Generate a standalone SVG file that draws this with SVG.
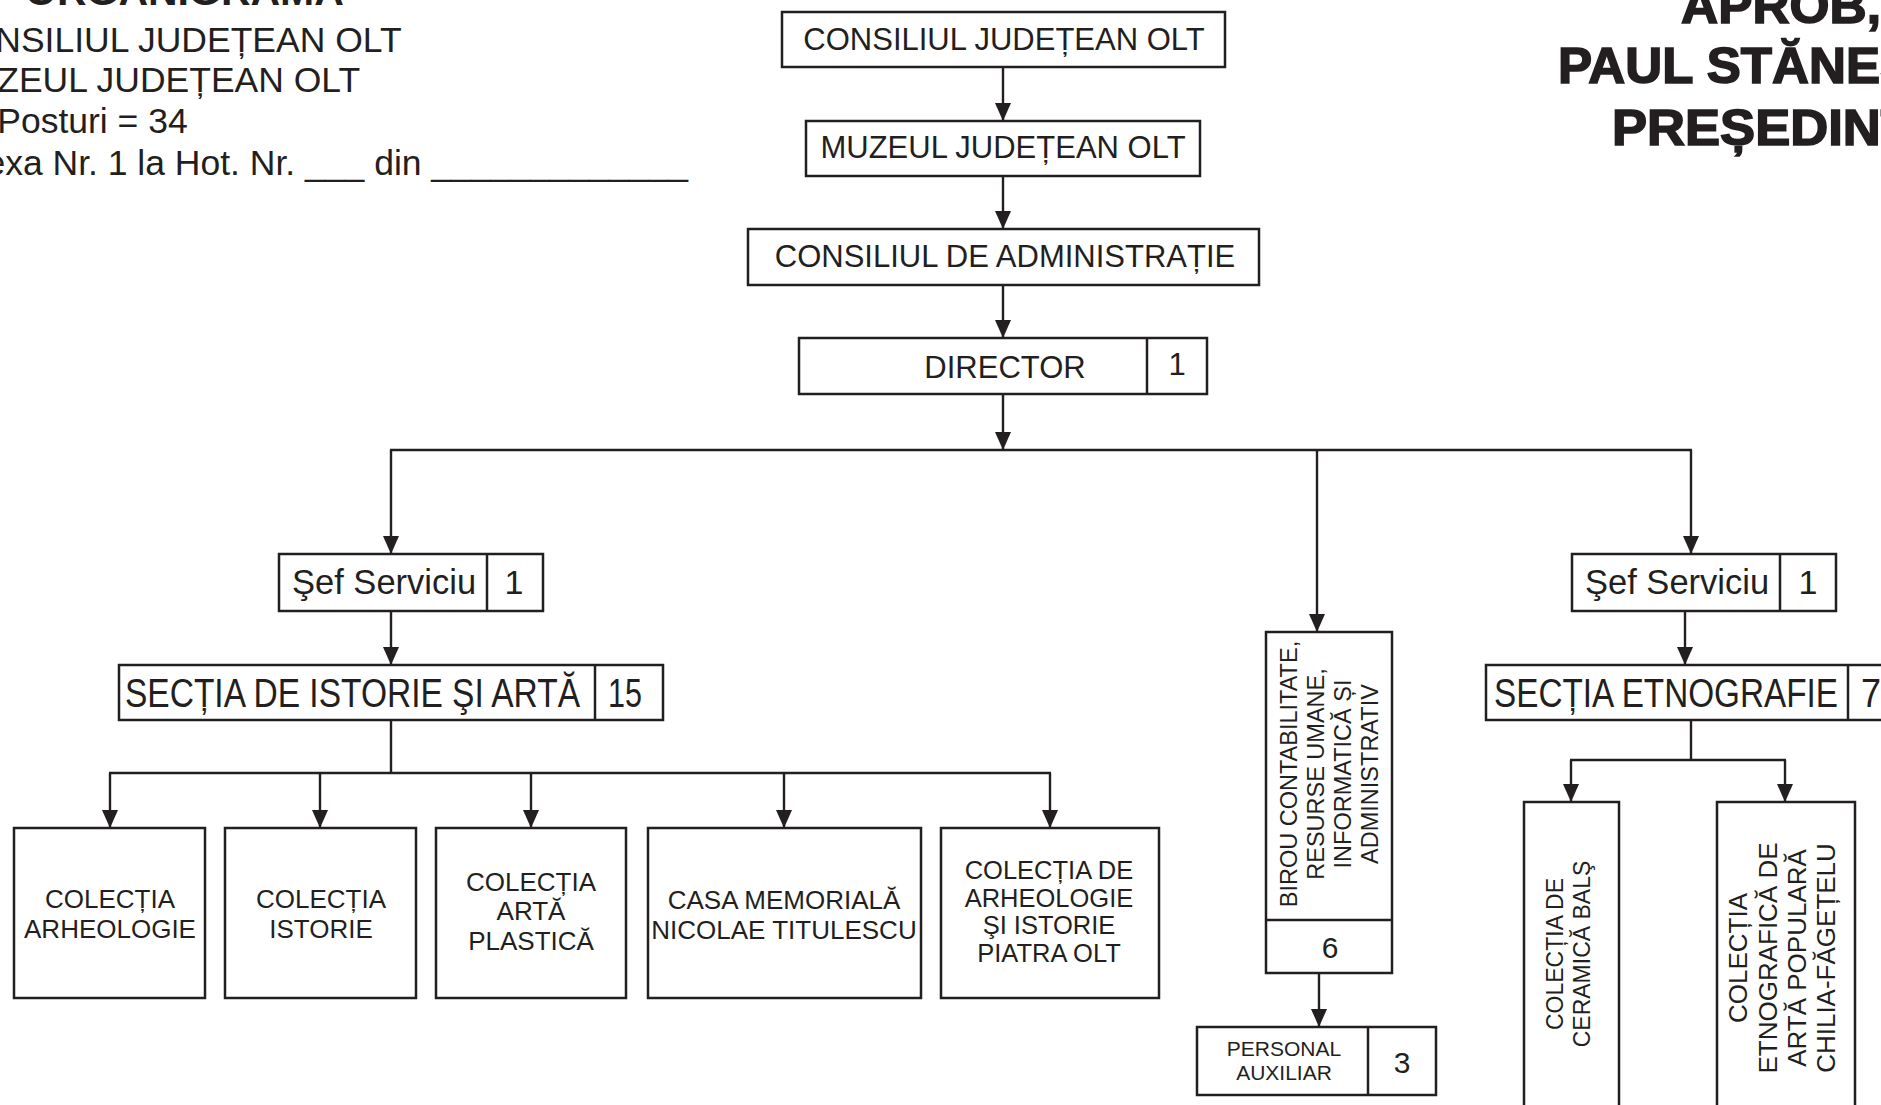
<svg xmlns="http://www.w3.org/2000/svg" width="1881" height="1105" viewBox="0 0 1881 1105">
<defs>
<style>
text{font-family:"Liberation Sans",Arial,sans-serif;fill:#231f20}
.box{fill:#fff;stroke:#231f20;stroke-width:2.5}
.div{stroke:#231f20;stroke-width:2.5}
.c{stroke:#231f20;stroke-width:2.4;fill:none}
.ca{stroke:#231f20;stroke-width:2.4;fill:none;marker-end:url(#ah)}
.m{text-anchor:middle}
.hd{font-weight:bold;font-size:50px;stroke:#231f20;stroke-width:1.6}
</style>
<marker id="ah" viewBox="0 0 18 16" markerWidth="18" markerHeight="16" refX="18" refY="8" orient="auto" markerUnits="userSpaceOnUse">
<path d="M0,0 L18,8 L0,16 z" fill="#231f20"/>
</marker>
</defs>
<rect width="1881" height="1105" fill="#fff"/>

<g id="header-left">
<text x="25" y="5" font-size="41" font-weight="bold">ORGANIGRAMA</text>
<text x="-58" y="52" font-size="35.5">CONSILIUL JUDEȚEAN OLT</text>
<text x="-58" y="92" font-size="35.5">MUZEUL JUDEȚEAN OLT</text>
<text x="-58" y="133" font-size="35.5">Nr. Posturi = 34</text>
<text x="-58" y="175" font-size="35.5">Anexa Nr. 1 la Hot. Nr. ___ din _____________</text>
</g>
<g id="header-right">
<text class="hd" x="1681" y="23" textLength="200" lengthAdjust="spacingAndGlyphs">APROB,</text>
<text class="hd" x="1558" y="83" textLength="430" lengthAdjust="spacingAndGlyphs">PAUL STĂNESCU</text>
<text class="hd" x="1612" y="145" textLength="336" lengthAdjust="spacingAndGlyphs">PREȘEDINTE</text>
</g>

<g id="connectors">
<line class="ca" x1="1003" y1="67" x2="1003" y2="121"/>
<line class="ca" x1="1003" y1="176" x2="1003" y2="229"/>
<line class="ca" x1="1003" y1="285" x2="1003" y2="338"/>
<line class="ca" x1="1003" y1="394" x2="1003" y2="450"/>
<line class="c" x1="390" y1="450" x2="1692" y2="450"/>
<line class="ca" x1="391" y1="450" x2="391" y2="554"/>
<line class="ca" x1="1317" y1="450" x2="1317" y2="632"/>
<line class="ca" x1="1691" y1="450" x2="1691" y2="554"/>
<line class="ca" x1="391" y1="611" x2="391" y2="665"/>
<line class="c" x1="391" y1="720" x2="391" y2="773"/>
<line class="c" x1="109" y1="773" x2="1051" y2="773"/>
<line class="ca" x1="110" y1="773" x2="110" y2="828"/>
<line class="ca" x1="320" y1="773" x2="320" y2="828"/>
<line class="ca" x1="531" y1="773" x2="531" y2="828"/>
<line class="ca" x1="784" y1="773" x2="784" y2="828"/>
<line class="ca" x1="1050" y1="773" x2="1050" y2="828"/>
<line class="ca" x1="1319" y1="973" x2="1319" y2="1027"/>
<line class="ca" x1="1685" y1="611" x2="1685" y2="665"/>
<line class="c" x1="1691" y1="720" x2="1691" y2="760"/>
<line class="c" x1="1570" y1="760" x2="1786" y2="760"/>
<line class="ca" x1="1571" y1="760" x2="1571" y2="802"/>
<line class="ca" x1="1785" y1="760" x2="1785" y2="802"/>
</g>

<g id="n-consiliul-judetean">
<rect class="box" x="782" y="12" width="443" height="55"/>
<text class="m" x="1004" y="50" font-size="31">CONSILIUL JUDEȚEAN OLT</text>
</g>
<g id="n-muzeul">
<rect class="box" x="806" y="121" width="394" height="55"/>
<text class="m" x="1003" y="158" font-size="31">MUZEUL JUDEȚEAN OLT</text>
</g>
<g id="n-consiliul-admin">
<rect class="box" x="748" y="229" width="511" height="56"/>
<text class="m" x="1005" y="267" font-size="31">CONSILIUL DE ADMINISTRAȚIE</text>
</g>
<g id="n-director">
<rect class="box" x="799" y="338" width="408" height="56"/>
<line class="div" x1="1147" y1="338" x2="1147" y2="394"/>
<text class="m" x="1005" y="378" font-size="31">DIRECTOR</text>
<text class="m" x="1177" y="375" font-size="31">1</text>
</g>

<g id="n-sef-left">
<rect class="box" x="279" y="554" width="264" height="57"/>
<line class="div" x1="487" y1="554" x2="487" y2="611"/>
<text x="292" y="594" font-size="34.5">Şef Serviciu</text>
<text class="m" x="514" y="594" font-size="34">1</text>
</g>
<g id="n-sectia-istorie">
<rect class="box" x="119" y="665" width="544" height="55"/>
<line class="div" x1="595" y1="665" x2="595" y2="720"/>
<text x="125" y="707" font-size="40" textLength="455" lengthAdjust="spacingAndGlyphs">SECȚIA DE ISTORIE ŞI ARTĂ</text>
<text x="608" y="707" font-size="40" textLength="34" lengthAdjust="spacingAndGlyphs">15</text>
</g>

<g id="n-col-arheologie">
<rect class="box" x="14" y="828" width="191" height="170"/>
<text class="m" x="110" y="908" font-size="26">COLECȚIA</text>
<text class="m" x="110" y="938" font-size="26">ARHEOLOGIE</text>
</g>
<g id="n-col-istorie">
<rect class="box" x="225" y="828" width="191" height="170"/>
<text class="m" x="321" y="908" font-size="26">COLECȚIA</text>
<text class="m" x="321" y="938" font-size="26">ISTORIE</text>
</g>
<g id="n-col-arta">
<rect class="box" x="436" y="828" width="190" height="170"/>
<text class="m" x="531" y="891" font-size="26">COLECȚIA</text>
<text class="m" x="531" y="920" font-size="26">ARTĂ</text>
<text class="m" x="531" y="950" font-size="26">PLASTICĂ</text>
</g>
<g id="n-casa-memoriala">
<rect class="box" x="648" y="828" width="273" height="170"/>
<text class="m" x="784" y="909" font-size="26">CASA MEMORIALĂ</text>
<text class="m" x="784" y="939" font-size="26">NICOLAE TITULESCU</text>
</g>
<g id="n-col-piatra">
<rect class="box" x="941" y="828" width="218" height="170"/>
<text class="m" x="1049" y="879" font-size="25.5">COLECȚIA DE</text>
<text class="m" x="1049" y="907" font-size="25.5">ARHEOLOGIE</text>
<text class="m" x="1049" y="934" font-size="25.5">ŞI ISTORIE</text>
<text class="m" x="1049" y="962" font-size="25.5">PIATRA OLT</text>
</g>

<g id="n-birou">
<rect class="box" x="1266" y="632" width="126" height="341"/>
<line class="div" x1="1266" y1="920" x2="1392" y2="920"/>
<g font-size="23.5" text-anchor="middle">
<text transform="translate(1297,774) rotate(-90)">BIROU CONTABILITATE,</text>
<text transform="translate(1324,774) rotate(-90)">RESURSE UMANE,</text>
<text transform="translate(1351,774) rotate(-90)">INFORMATICĂ ȘI</text>
<text transform="translate(1378,774) rotate(-90)">ADMINISTRATIV</text>
</g>
<text class="m" x="1330" y="958" font-size="30">6</text>
</g>
<g id="n-personal">
<rect class="box" x="1197" y="1027" width="239" height="68"/>
<line class="div" x1="1368" y1="1027" x2="1368" y2="1095"/>
<text class="m" x="1284" y="1056" font-size="21">PERSONAL</text>
<text class="m" x="1284" y="1080" font-size="21">AUXILIAR</text>
<text class="m" x="1402" y="1073" font-size="30">3</text>
</g>

<g id="n-sef-right">
<rect class="box" x="1572" y="554" width="264" height="57"/>
<line class="div" x1="1780" y1="554" x2="1780" y2="611"/>
<text x="1585" y="594" font-size="34.5">Şef Serviciu</text>
<text class="m" x="1808" y="594" font-size="34">1</text>
</g>
<g id="n-sectia-etnografie">
<rect class="box" x="1486" y="665" width="420" height="55"/>
<line class="div" x1="1848" y1="665" x2="1848" y2="720"/>
<text x="1494" y="707" font-size="40" textLength="344" lengthAdjust="spacingAndGlyphs">SECȚIA ETNOGRAFIE</text>
<text x="1861" y="707" font-size="40" textLength="20" lengthAdjust="spacingAndGlyphs">7</text>
</g>
<g id="n-col-ceramica">
<rect class="box" x="1524" y="802" width="95" height="330"/>
<g font-size="23" text-anchor="middle">
<text transform="translate(1563,954) rotate(-90)">COLECȚIA DE</text>
<text transform="translate(1590,954) rotate(-90)">CERAMICĂ BALŞ</text>
</g>
</g>
<g id="n-col-etnografica">
<rect class="box" x="1717" y="802" width="138" height="330"/>
<g font-size="26" text-anchor="middle">
<text transform="translate(1747,958) rotate(-90)">COLECȚIA</text>
<text transform="translate(1777,958) rotate(-90)">ETNOGRAFICĂ DE</text>
<text transform="translate(1806,958) rotate(-90)">ARTĂ POPULARĂ</text>
<text transform="translate(1835,958) rotate(-90)">CHILIA-FĂGEȚELU</text>
</g>
</g>
</svg>
